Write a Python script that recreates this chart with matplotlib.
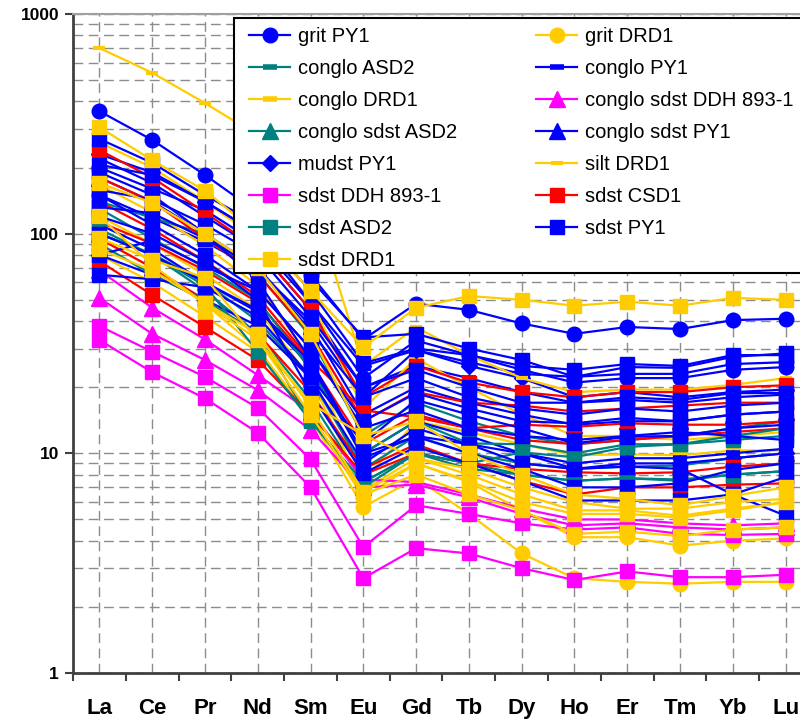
import matplotlib
matplotlib.use("Agg")
import matplotlib.pyplot as plt
from matplotlib.patches import Rectangle
from matplotlib.ticker import LogLocator, NullFormatter

plt.rcParams['font.family'] = ['Liberation Sans', 'DejaVu Sans']

# REE columns
elements = ["La", "Ce", "Pr", "Nd", "Sm", "Eu", "Gd", "Tb", "Dy", "Ho", "Er", "Tm", "Yb", "Lu"]

# chondrite-normalised values, one row per sample
grit_py1 = [
    [361, 267, 185, 125, 65, 33, 48, 45, 39, 35, 37.6, 36.8, 40.4, 41],
    [200, 160, 128, 90, 48.4, 22, 32.6, 28, 24, 21, 22, 22, 24, 24.7],
    [150, 118, 92, 68, 40, 18, 29.5, 26, 23, 22.3, 23, 23, 25.5, 26],
]
grit_drd1 = [
    [167, 125, 88, 58, 27, 7.5, 14, 12.5, 11, 9.8, 9.9, 9.8, 10.3, 10.3],
    [95, 70, 48, 30, 14.5, 5.7, 7.7, 5.3, 3.5, 2.7, 2.6, 2.55, 2.6, 2.6],
    [80, 60, 42, 29, 15, 6.3, 9, 7.4, 5.5, 4.15, 4.15, 3.8, 4.0, 4.1],
]
conglo_asd2 = [
    [140, 118, 100, 66, 34, 12, 17, 14, 12, 11, 11.5, 12, 13, 14],
    [100, 80, 55, 35, 17.5, 7.4, 10, 9, 8, 7.5, 7.7, 7.6, 8, 8.3],
]
conglo_py1 = [
    [220, 170, 120, 85, 45, 20, 25, 22, 19, 17, 17.5, 17, 18, 18.5],
    [110, 85, 60, 44, 25, 10, 14, 12, 10, 9, 9.5, 9.5, 10, 10.5],
]
conglo_drd1 = [
    [260, 200, 140, 95, 50, 16, 27, 20, 15, 12, 12, 11.5, 12, 12.5],
    [120, 90, 65, 45, 22, 6.8, 9.5, 8, 6.5, 5.5, 5.5, 5.2, 5.6, 6.0],
]
conglo_sdst_ddh = [
    [68, 46, 33, 22.7, 15.5, 7.6, 7.4, 6.5, 5.6, 5.0, 5.0, 4.8, 4.7, 4.8],
    [51, 35, 26.6, 19.4, 12.8, 7.0, 7.2, 6.3, 5.3, 4.7, 4.8, 4.6, 4.5, 4.6],
]
conglo_sdst_asd2 = [
    [100, 81, 60, 40, 22, 8.5, 12, 10, 9, 8.5, 8.7, 8.8, 9.5, 10],
]
conglo_sdst_py1 = [
    [180, 140, 100, 70, 38, 15, 20, 17, 15, 13.5, 14, 14, 15, 15.5],
]
mudst_py1 = [
    [230, 190, 140, 100, 48.5, 25, 29.5, 25, 22, 18, 19, 18, 19, 19.5],
    [80, 65, 50, 38, 22, 9, 13, 11, 10, 8.5, 9, 9, 9.5, 10],
]
silt_drd1 = [
    [700, 540, 393, 280, 150, 25, 37.5, 28, 22, 19, 19.5, 19.5, 20.5, 22],
]
sdst_ddh = [
    [38, 29, 22.3, 16.1, 9.4, 3.74, 5.8, 5.3, 4.8, 4.5, 4.6, 4.3, 4.25, 4.3],
    [32.8, 23.4, 17.8, 12.4, 7.0, 2.7, 3.7, 3.5, 3.0, 2.65, 2.9, 2.73, 2.73, 2.8],
]
sdst_csd1 = [
    [240, 180, 125, 85, 45, 18, 25, 21, 19, 18, 19, 19, 20, 20.4],
    [113, 90, 68, 48.7, 26, 11, 15, 13, 11.5, 11, 11.5, 12, 12.5, 13],
    [140, 105, 75, 52, 26.6, 15.7, 14.6, 13, 13.5, 13.2, 13.7, 13.5, 13.5, 14],
    [75, 52.6, 37.6, 26.6, 15, 8, 10, 9, 8.5, 8.2, 8.1, 8.2, 8.7, 9],
    [95, 70, 50, 35, 19, 8.5, 11, 9, 7.5, 6.5, 7.0, 7.0, 7.2, 7.3],
    [180, 140, 95, 65, 35, 14, 19, 17, 16.5, 15.5, 16, 16.5, 17, 17],
]
sdst_asd2 = [
    [105, 80, 58, 29, 14, 7.4, 10, 9, 10.1, 9.6, 10.7, 11, 12, 13],
    [90, 65, 50, 35, 14.2, 7, 10, 8.5, 8, 7.5, 7.7, 7.5, 8, 8.3],
    [130, 95, 70, 50, 24, 10, 14, 11.1, 11, 10, 11, 11, 11.5, 12],
]
sdst_py1 = [
    [270, 210, 150, 110, 62, 33.7, 35, 30, 26.6, 22.3, 24.7, 24.5, 27.5, 28.5],
    [206, 185, 140, 100, 55, 25.7, 30, 28, 25, 24, 25.5, 25, 28, 28],
    [158, 143, 110, 80, 41.7, 20, 24, 20, 17, 17, 18, 17.5, 18.8, 18.8],
    [132, 124, 95, 70, 36, 18, 22, 18, 16, 15, 16, 15.5, 16.5, 17],
    [80, 93, 71, 55, 30, 14, 18.8, 16, 14, 13.7, 14.5, 14, 15, 15.5],
    [65, 62, 57, 42, 22.3, 11.1, 17.5, 15, 13, 11.1, 11.9, 12, 13, 13.5],
    [190, 150, 100, 61, 26.6, 10, 11.9, 10, 8.5, 7.0, 7.0, 7.3, 8.4, 9],
    [120, 100, 75, 50, 18.8, 8.1, 10.7, 9, 7.5, 6.1, 6.1, 6.1, 6.5, 7.8],
    [150, 110, 80, 55, 30, 13, 15.7, 13, 12, 11.5, 12, 12.5, 12, 11.5],
    [100, 80, 60, 45, 26, 9.5, 12, 11, 9, 8.5, 8.7, 8.5, 6.5, 5.2],
]
sdst_drd1 = [
    [305, 216, 157, 100, 55, 30.4, 46, 52, 50, 47, 49, 47, 51, 50],
    [95.5, 76, 63, 32.8, 16.9, 12.1, 9.5, 8.5, 7, 6.0, 5.6, 5.6, 6, 6.2],
    [85, 68, 48.5, 35, 16.2, 6.7, 9, 7.5, 6, 5.3, 5.3, 5.1, 5.5, 6.0],
    [170, 138, 100, 70, 35, 12, 14, 10, 8, 6.5, 6.2, 5.8, 6.4, 7],
    [120, 72, 48, 33, 15, 6.5, 8, 6.5, 5.5, 4.3, 4.4, 4.2, 4.5, 4.6],
]

BLUE = "#0000FF"
GOLD = "#FFCC00"
TEAL = "#008080"
MAGENTA = "#FF00FF"
RED = "#FF0000"

# (label, samples, colour, marker, markersize, markeredgewidth)
groups = [
    ("grit PY1", grit_py1, BLUE, "o", 10.5, 1),
    ("grit DRD1", grit_drd1, GOLD, "o", 10.5, 1),
    ("conglo ASD2", conglo_asd2, TEAL, "_", 10, 4),
    ("conglo PY1", conglo_py1, BLUE, "_", 10, 4),
    ("conglo DRD1", conglo_drd1, GOLD, "_", 10, 4),
    ("conglo sdst DDH 893-1", conglo_sdst_ddh, MAGENTA, "^", 11.5, 1),
    ("conglo sdst ASD2", conglo_sdst_asd2, TEAL, "^", 11.5, 1),
    ("conglo sdst PY1", conglo_sdst_py1, BLUE, "^", 11.5, 1),
    ("mudst PY1", mudst_py1, BLUE, "D", 8.5, 1),
    ("silt DRD1", silt_drd1, GOLD, "_", 8, 3),
    ("sdst DDH 893-1", sdst_ddh, MAGENTA, "s", 10.5, 1),
    ("sdst CSD1", sdst_csd1, RED, "s", 10.5, 1),
    ("sdst ASD2", sdst_asd2, TEAL, "s", 10.5, 1),
    ("sdst PY1", sdst_py1, BLUE, "s", 10.5, 1),
    ("sdst DRD1", sdst_drd1, GOLD, "s", 10.5, 1),
]

fig = plt.figure(figsize=(8, 7.19), dpi=100)
# plot area runs past the right edge of the picture, as in the original
ax = fig.add_axes([73 / 800, 46 / 719, 739 / 800, 659 / 719])

xs = [i + 0.5 for i in range(len(elements))]
handles = []
for label, samples, color, marker, ms, mew in groups:
    first = None
    for row in samples:
        ln, = ax.plot(xs, row, color=color, lw=1.6, marker=marker, ms=ms,
                      mfc=color, mec=color, mew=mew, zorder=3)
        if first is None:
            first = ln
    handles.append((first, label))

ax.set_yscale("log")
ax.set_ylim(1, 1000)
ax.set_xlim(0, len(elements))

# ticks: boundaries get tick marks, centres get labels + grid
ax.set_xticks(range(len(elements) + 1))
ax.set_xticklabels([])
ax.set_xticks(xs, minor=True)
ax.set_xticklabels(elements, minor=True, fontsize=16, fontweight="bold")
ax.tick_params(axis="x", which="major", direction="out", length=6, width=1.5, color="#404040")
ax.tick_params(axis="x", which="minor", length=0, pad=18)

ax.set_yticks([1, 10, 100, 1000])
ax.set_yticklabels(["1", "10", "100", "1000"], fontsize=12.5, fontweight="bold")
ax.yaxis.set_minor_locator(LogLocator(base=10, subs=range(2, 10)))
ax.yaxis.set_minor_formatter(NullFormatter())
ax.tick_params(axis="y", which="major", direction="out", length=6, width=1.5, color="#404040", pad=4)
ax.tick_params(axis="y", which="minor", length=0)

grid_kw = dict(color="#8c8c8c", lw=1, linestyle=(0, (7, 4)))
ax.grid(which="major", axis="y", **grid_kw)
ax.grid(which="minor", axis="y", **grid_kw)
ax.grid(which="minor", axis="x", **grid_kw)
ax.set_axisbelow(True)

for side in ("left", "bottom"):
    ax.spines[side].set_color("#404040")
    ax.spines[side].set_linewidth(2)
ax.spines["top"].set_color("#a0a0a0")
ax.spines["top"].set_linewidth(1.5)
ax.spines["right"].set_visible(False)

# legend box (runs off the right edge like the original)
W, H = 800, 719
box = Rectangle((234 / W, 1 - 273 / H), 600 / W, (273 - 18) / H,
                transform=fig.transFigure, facecolor="white",
                edgecolor="black", lw=1.5, zorder=5)
fig.patches.append(box)

# legend is filled row by row in the original (2 columns)
order = list(range(0, len(handles), 2)) + list(range(1, len(handles), 2))
leg = fig.legend([handles[i][0] for i in order], [handles[i][1] for i in order],
                 loc="upper left", bbox_to_anchor=(249 / W, 1 - 27 / H),
                 bbox_transform=fig.transFigure, ncol=2, fontsize=14.5,
                 frameon=False, borderaxespad=0, borderpad=0,
                 handlelength=2.05, handletextpad=0.4, labelspacing=0.645,
                 columnspacing=3.9)
leg.set_zorder(10)

fig.savefig("out.png", dpi=100)
